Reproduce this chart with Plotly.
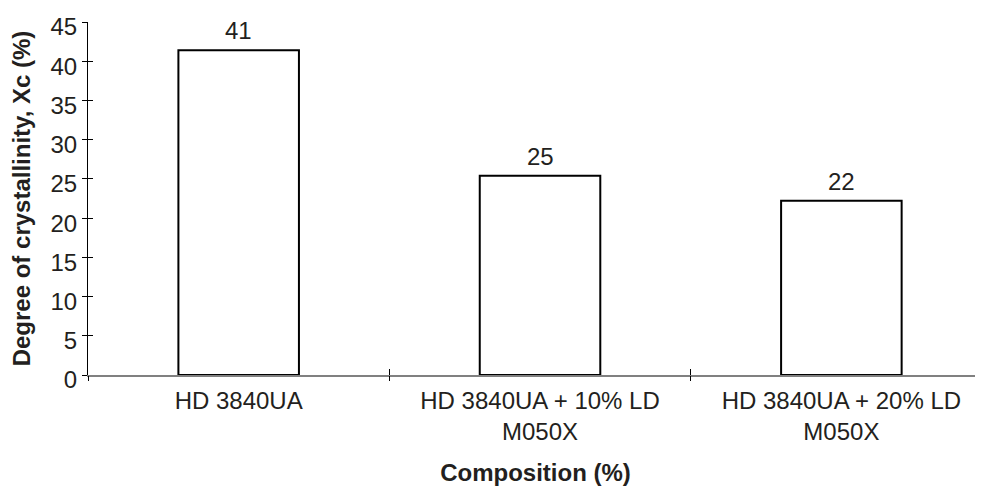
import plotly.graph_objects as go

categories = ["HD 3840UA", "HD 3840UA + 10% LD<br>M050X", "HD 3840UA + 20% LD<br>M050X"]
values = [41.4, 25.4, 22.2]
labels = ["41", "25", "22"]
y_ticks = [0, 5, 10, 15, 20, 25, 30, 35, 40, 45]

xpos = list(range(len(categories)))
bounds = [i - 0.5 for i in range(len(categories) + 1)]
TXT = "#231f20"
FONT = "Liberation Sans, Arial, sans-serif"
FS = 24

fig = go.Figure()
fig.add_trace(go.Bar(
    x=xpos, y=values, width=0.4,
    marker=dict(color="white", line=dict(color="black", width=2)),
    showlegend=False, hoverinfo="skip",
))
for x, v, t in zip(xpos, values, labels):
    fig.add_annotation(x=x, y=v, text=t, showarrow=False, yanchor="bottom",
                       yshift=4, font=dict(size=FS, color=TXT, family=FONT))

fig.update_layout(
    width=975, height=478,
    margin=dict(l=80, r=0, t=14, b=111),
    plot_bgcolor="white", paper_bgcolor="white",
    font=dict(family=FONT, color=TXT),
    xaxis=dict(range=[-0.5, 2.47], tickvals=xpos, ticktext=categories,
               ticks="", showgrid=False, zeroline=False,
               showline=True, linecolor="#808080", linewidth=2,
               tickfont=dict(size=FS, color=TXT), ticklabelstandoff=3,
               title=dict(text="<b>Composition (%)</b>", font=dict(size=FS, color=TXT), standoff=22)),
    xaxis2=dict(overlaying="x", anchor="y", side="bottom", range=[-0.5, 2.47],
                tickvals=bounds, ticks="outside", ticklen=5, tickcolor="black", tickwidth=1,
                showticklabels=False, showgrid=False, zeroline=False, showline=False),
    xaxis3=dict(overlaying="x", anchor="y", side="bottom", range=[-0.5, 2.47],
                tickvals=bounds, ticks="inside", ticklen=6, tickcolor="black", tickwidth=1,
                showticklabels=False, showgrid=False, zeroline=False, showline=False),
    yaxis=dict(range=[0, 45], tickvals=y_ticks, ticks="outside", ticklen=5,
               tickcolor="black", tickwidth=1, showgrid=False, zeroline=False,
               showline=True, linecolor="black", linewidth=1,
               tickfont=dict(size=FS, color=TXT), ticklabelshift=5,
               ticklabeloverflow="allow",
               title=dict(text="<b>Degree of crystallinity, Xc (%)</b>", font=dict(size=FS, color=TXT), standoff=18)),
    yaxis2=dict(overlaying="y", anchor="x", side="left", range=[0, 45], tickvals=y_ticks,
                ticks="inside", ticklen=5, tickcolor="black", tickwidth=1,
                showticklabels=False, showgrid=False, zeroline=False, showline=False),
)
# empty traces so the overlay tick axes render
fig.add_trace(go.Scatter(x=[], y=[], xaxis="x2", yaxis="y", showlegend=False))
fig.add_trace(go.Scatter(x=[], y=[], xaxis="x3", yaxis="y2", showlegend=False))

fig.write_html("out.html")
